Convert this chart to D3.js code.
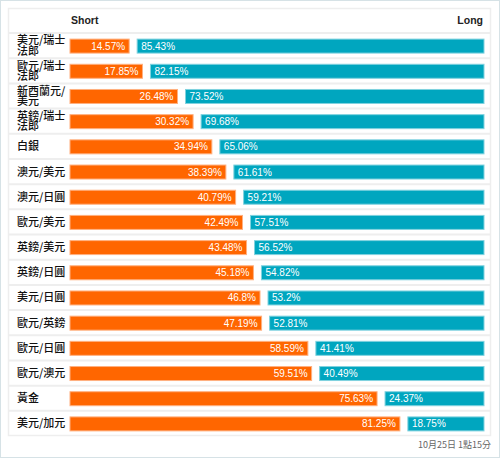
<!DOCTYPE html>
<html><head><meta charset="utf-8">
<script src="https://cdn.jsdelivr.net/npm/d3@7"></script>
<style>
body{margin:0;background:#fff;}
text{font-family:"Liberation Sans","Noto Sans CJK TC",sans-serif;}
text.cjk{font-family:"Noto Sans CJK TC","Noto Sans",sans-serif;}
</style></head>
<body><svg id="c" width="500" height="458"></svg>
<script>
const categories = ["美元/瑞士法郎","歐元/瑞士法郎","新西蘭元/美元","英鎊/瑞士法郎","白銀","澳元/美元","澳元/日圓","歐元/美元","英鎊/美元","英鎊/日圓","美元/日圓","歐元/英鎊","歐元/日圓","歐元/澳元","黃金","美元/加元"];
const shortValues = [14.57,17.85,26.48,30.32,34.94,38.39,40.79,42.49,43.48,45.18,46.8,47.19,58.59,59.51,75.63,81.25];
const longValues  = [85.43,82.15,73.52,69.68,65.06,61.61,59.21,57.51,56.52,54.82,53.2,52.81,41.41,40.49,24.37,18.75];
const headers = ["Short","Long"];
const timestamp = "10月25日 1點15分";

const svg = d3.select("#c");
const W = 500, H = 458;
svg.append("rect").attr("x",0.5).attr("y",0.5).attr("width",W-1).attr("height",H-1)
  .attr("fill","#fff").attr("stroke","#d6e2e6");
const tL = 8, tR = 491, tT = 8, tB = 436;
svg.append("rect").attr("x",tL+0.5).attr("y",tT+0.5).attr("width",tR-tL-1).attr("height",tB-tT-1)
  .attr("fill","#fff").attr("stroke","#eeeeee").attr("stroke-width",1.5);

const rowTop = 33;
const y = d3.scaleBand().domain(categories).range([rowTop, tB]).paddingInner(0);
const barL = 70, barR = 484, gap = 8;
const x = d3.scaleLinear().domain([0,100]).range([0, barR-barL-gap]);

svg.append("text").attr("x",71).attr("y",24).attr("font-size",10.5).attr("font-weight","bold")
  .attr("fill","#222").text(headers[0]);
svg.append("text").attr("x",483).attr("y",24).attr("text-anchor","end").attr("font-size",10.5)
  .attr("font-weight","bold").attr("fill","#222").text(headers[1]);

const seps = [rowTop].concat(categories.map(c=>y(c)+y.bandwidth())).slice(0,-1);
svg.selectAll("line.sep").data(seps).join("line").attr("class","sep")
  .attr("x1",tL+1).attr("x2",tR-1).attr("y1",d=>d).attr("y2",d=>d)
  .attr("stroke","#eeeeee").attr("stroke-width",2);

const rows = svg.selectAll("g.row").data(categories).join("g").attr("class","row")
  .attr("transform",c=>`translate(0,${y(c)})`);
const bh = 14, bw = y.bandwidth();
const by = (bw-bh)/2 + 0.5;

rows.append("rect").attr("x",barL).attr("y",by)
  .attr("width",(c,i)=>x(shortValues[i])).attr("height",bh)
  .attr("fill","#ff6600").attr("stroke","#ffb080").attr("stroke-width",1);
rows.append("rect").attr("x",(c,i)=>barL + x(shortValues[i]) + gap).attr("y",by)
  .attr("width",(c,i)=>barR - (barL + x(shortValues[i]) + gap)).attr("height",bh)
  .attr("fill","#00a6bf").attr("stroke","#80d2df").attr("stroke-width",1);

rows.append("text").attr("x",(c,i)=>barL + x(shortValues[i]) - 4).attr("y",by+bh/2+3.5)
  .attr("text-anchor","end").attr("font-size",10).attr("fill","#fff")
  .text((c,i)=>shortValues[i]+"%");
rows.append("text").attr("x",(c,i)=>barL + x(shortValues[i]) + gap + 4).attr("y",by+bh/2+3.5)
  .attr("font-size",10).attr("fill","#fff")
  .text((c,i)=>longValues[i]+"%");

rows.each(function(c){
  const g = d3.select(this);
  const maxW = 50;
  const lines = [];
  let cur = "";
  const t = g.append("text").attr("class","cjk").attr("font-size",11).attr("font-weight",500).attr("fill","#111");
  for (const ch of c) {
    t.text(cur+ch);
    if (t.node().getComputedTextLength() > maxW && cur) { lines.push(cur); cur = ch; }
    else cur += ch;
  }
  lines.push(cur);
  t.text(null);
  const lh = 10.5;
  const y0 = bw/2 + 4 - (lines.length-1)*lh/2;
  lines.forEach((l,k)=>t.append("tspan").attr("x",17).attr("y",y0+k*lh).text(l));
});

svg.append("text").attr("class","cjk").attr("x",491).attr("y",448).attr("text-anchor","end").attr("font-size",9)
  .attr("fill","#666").text(timestamp);
</script></body></html>
